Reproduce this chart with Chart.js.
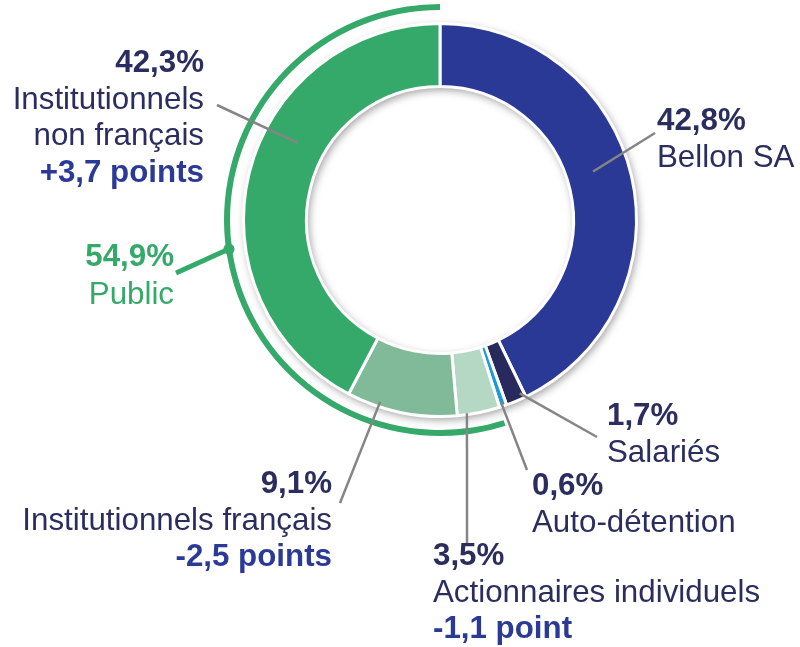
<!DOCTYPE html>
<html><head><meta charset="utf-8">
<script src="https://cdn.jsdelivr.net/npm/chart.js@4"></script>
<style>html,body{margin:0;padding:0;background:#fff;overflow:hidden}</style>
</head><body>
<canvas id="c" width="800" height="647" style="width:800px;height:647px;display:block"></canvas>
<script>
// ---- data ----
const categories = [['Bellon SA'], ['Salariés'], ['Auto-détention'], ['Actionnaires individuels'], ['Institutionnels français'], ['Institutionnels', 'non français']];
const shares = [42.8, 1.7, 0.6, 3.5, 9.1, 42.3];
const pointChanges = [null, null, null, -1.1, -2.5, 3.7];
const publicLabel = 'Public';
const publicShare = 54.9;

// ---- styles ----
const sliceColors = ['#2A3896', '#282A5E', '#1E9AD6', '#B5D8C4', '#80BA98', '#35A96A'];
const green = '#35A96A';
const textDark = '#2B2D5F';
const textBlue = '#2B3A97';
const leaderGray = '#858585';
const FONT = '"Liberation Sans", Arial, sans-serif';
const FS = 31.3;
const lineGap = 36.5;

// label placement (layout only)
const labelLayout = [
  {x: 657, y: 130, align: 'left',  end: [655, 133], t: 0.47,  rf: 0.43},
  {x: 607, y: 425, align: 'left',  end: [597, 437], t: 0.20,  rf: 0.91},
  {x: 532, y: 495, align: 'left',  end: [527, 470], t: 0.60,  rf: 0.93},
  {x: 433, y: 565, align: 'left',  end: [467, 545], t: 0.77,  rf: 0.98},
  {x: 332, y: 493, align: 'right', end: [340, 503], t: 0.71,  rf: 0.92},
  {x: 204, y: 72,  align: 'right', end: [217, 105], t: 0.596, rf: 0.45}
];
const publicLayout = {x: 174, y: 266, align: 'right', end: [176, 273], t: 0.505};

function fmtPct(v) { return v.toFixed(1).replace('.', ',') + '%'; }
function fmtChange(v) {
  const s = (v > 0 ? '+' : '-') + Math.abs(v).toFixed(1).replace('.', ',');
  return s + (Math.abs(v) < 2 ? ' point' : ' points');
}
function arcPoint(el, t, rf) {
  const p = el.getProps(['x', 'y', 'startAngle', 'endAngle', 'innerRadius', 'outerRadius'], true);
  const a = p.startAngle + t * (p.endAngle - p.startAngle);
  const r = p.innerRadius + rf * (p.outerRadius - p.innerRadius);
  return [p.x + r * Math.cos(a), p.y + r * Math.sin(a)];
}

const shadowPlugin = {
  id: 'ringShadow',
  beforeDatasetsDraw(chart) {
    const meta = chart.getDatasetMeta(2);
    const el = meta.data[0];
    if (!el) return;
    const p = el.getProps(['x', 'y', 'innerRadius', 'outerRadius'], true);
    const ctx = chart.ctx;
    ctx.save();
    ctx.shadowColor = 'rgba(0,0,0,0.4)';
    ctx.shadowBlur = 8;
    ctx.shadowOffsetX = 2;
    ctx.shadowOffsetY = 3;
    ctx.fillStyle = '#fff';
    ctx.beginPath();
    ctx.arc(p.x, p.y, p.outerRadius, 0, Math.PI * 2);
    ctx.arc(p.x, p.y, p.innerRadius, Math.PI * 2, 0, true);
    ctx.closePath();
    ctx.fill();
    ctx.restore();
  }
};

const labelPlugin = {
  id: 'labels',
  afterDatasetsDraw(chart) {
    const ctx = chart.ctx;
    const meta = chart.getDatasetMeta(2);
    ctx.save();
    ctx.strokeStyle = leaderGray;
    ctx.lineWidth = 2.5;
    ctx.lineCap = 'butt';
    labelLayout.forEach((L, i) => {
      const [ax, ay] = arcPoint(meta.data[i], L.t, L.rf);
      ctx.beginPath();
      ctx.moveTo(ax, ay);
      ctx.lineTo(L.end[0], L.end[1]);
      ctx.stroke();
    });
    ctx.textBaseline = 'alphabetic';
    labelLayout.forEach((L, i) => {
      ctx.textAlign = L.align;
      let y = L.y;
      ctx.fillStyle = textDark;
      ctx.font = 'bold ' + FS + 'px ' + FONT;
      ctx.fillText(fmtPct(shares[i]), L.x, y);
      ctx.font = FS + 'px ' + FONT;
      categories[i].forEach(line => { y += lineGap; ctx.fillText(line, L.x, y); });
      if (pointChanges[i] !== null) {
        y += lineGap;
        ctx.fillStyle = textBlue;
        ctx.font = 'bold ' + FS + 'px ' + FONT;
        ctx.fillText(fmtChange(pointChanges[i]), L.x, y);
      }
    });
    const pm = chart.getDatasetMeta(0);
    const [px, py] = arcPoint(pm.data[1], publicLayout.t, 0.5);
    ctx.strokeStyle = green;
    ctx.lineWidth = 5;
    ctx.beginPath();
    ctx.moveTo(px, py);
    ctx.lineTo(publicLayout.end[0], publicLayout.end[1]);
    ctx.stroke();
    ctx.fillStyle = green;
    ctx.beginPath();
    ctx.arc(px, py, 5.5, 0, Math.PI * 2);
    ctx.fill();
    ctx.textAlign = publicLayout.align;
    ctx.font = 'bold ' + FS + 'px ' + FONT;
    ctx.fillText(fmtPct(publicShare), publicLayout.x, publicLayout.y);
    ctx.font = FS + 'px ' + FONT;
    ctx.fillText(publicLabel, publicLayout.x, publicLayout.y + lineGap + 1.5);
    ctx.restore();
  }
};

new Chart(document.getElementById('c'), {
  type: 'doughnut',
  data: {
    labels: categories.map(c => c.join(' ')),
    datasets: [
      {data: [100 - publicShare, publicShare], backgroundColor: ['rgba(0,0,0,0)', green], borderWidth: 0, weight: 6},
      {data: [100], backgroundColor: 'rgba(0,0,0,0)', borderWidth: 0, weight: 13.5},
      {data: shares, backgroundColor: sliceColors, borderColor: '#ffffff', borderWidth: 3, weight: 63}
    ]
  },
  options: {
    responsive: false,
    animation: false,
    devicePixelRatio: 1,
    radius: 216,
    cutout: (133.5 / 216 * 100) + '%',
    layout: {padding: {left: 224, right: 144, top: 4, bottom: 211}},
    plugins: {legend: {display: false}, tooltip: {enabled: false}},
    events: []
  },
  plugins: [shadowPlugin, labelPlugin]
});
</script>
</body></html>
